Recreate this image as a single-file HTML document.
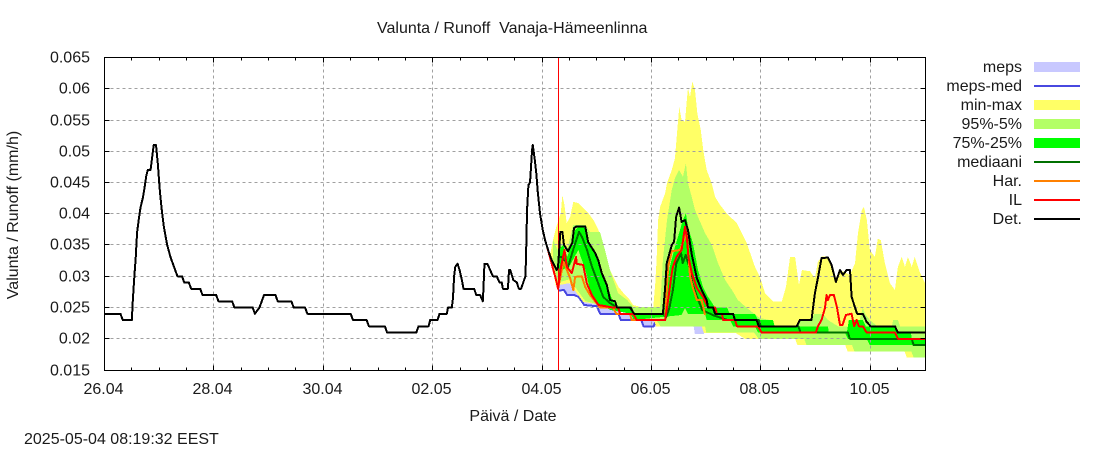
<!DOCTYPE html>
<html lang="fi">
<head>
<meta charset="utf-8">
<title>Valunta / Runoff Vanaja-Hämeenlinna</title>
<style>
  html, body { margin: 0; padding: 0; background: #fff; }
  svg { display: block; }
  text { font-family: "Liberation Sans", Arial, sans-serif; font-size: 16px; fill: #1a1a1a; }
  .crisp { shape-rendering: crispEdges; }
</style>
</head>
<body>
<svg id="chart" xmlns="http://www.w3.org/2000/svg" width="1100" height="450" viewBox="0 0 1100 450">
  <rect x="0" y="0" width="1100" height="450" fill="#ffffff"/>
  <text x="377" y="33" xml:space="preserve">Valunta / Runoff  Vanaja-Hämeenlinna</text>
  <text transform="translate(18,215) rotate(-90)" text-anchor="middle">Valunta / Runoff (mm/h)</text>
  <text x="513" y="421" text-anchor="middle">Päivä / Date</text>
  <text x="24" y="444">2025-05-04 08:19:32 EEST</text>
  <g id="bands" class="crisp"></g>
  <g id="grid" class="crisp"></g>
  <g id="series" class="crisp"></g>
  <g id="axes" class="crisp"></g>

  <g>
    <g>
      <text x="1022" y="72" text-anchor="end">meps</text>
      <rect class="crisp" x="1034" y="62" width="46" height="10" fill="#c8c8ff"/>
    </g>
    <g>
      <text x="1022" y="91" text-anchor="end">meps-med</text>
      <rect class="crisp" x="1034" y="85" width="46" height="2" fill="#4848e0"/>
    </g>
    <g>
      <text x="1022" y="110" text-anchor="end">min-max</text>
      <rect class="crisp" x="1034" y="100" width="46" height="10" fill="#ffff66"/>
    </g>
    <g>
      <text x="1022" y="129" text-anchor="end">95%-5%</text>
      <rect class="crisp" x="1034" y="119" width="46" height="10" fill="#b3ff66"/>
    </g>
    <g>
      <text x="1022" y="148" text-anchor="end">75%-25%</text>
      <rect class="crisp" x="1034" y="138" width="46" height="10" fill="#00ff00"/>
    </g>
    <g>
      <text x="1022" y="167" text-anchor="end">mediaani</text>
      <rect class="crisp" x="1034" y="161" width="46" height="2" fill="#007000"/>
    </g>
    <g>
      <text x="1022" y="186" text-anchor="end">Har.</text>
      <rect class="crisp" x="1034" y="180" width="46" height="2" fill="#ff8000"/>
    </g>
    <g>
      <text x="1022" y="205" text-anchor="end">IL</text>
      <rect class="crisp" x="1034" y="199" width="46" height="2" fill="#ff0000"/>
    </g>
    <g>
      <text x="1022" y="224" text-anchor="end">Det.</text>
      <rect class="crisp" x="1034" y="218" width="46" height="2" fill="#000000"/>
    </g>
  </g>
</svg>
<script>
const yTickValues = [0.015, 0.02, 0.025, 0.03, 0.035, 0.04, 0.045, 0.05, 0.055, 0.06, 0.065];
const yTickLabels = ["0.015", "0.02", "0.025", "0.03", "0.035", "0.04", "0.045", "0.05", "0.055", "0.06", "0.065"];
const xTickHours = [0, 48, 96, 144, 192, 240, 288, 336];
const xTickLabels = ["26.04", "28.04", "30.04", "02.05", "04.05", "06.05", "08.05", "10.05"];
const forecastStartHour = 199;

const detHours = [
  0,7,8,12,12.4,13.1,13.7,14.3,15,15.8,16.8,17.5,18.3,19,20.2,20.9,21.6,22.6,23.4,24.2,25,26,27.5,29,31,32,34,35,37,38,42,43,49,50,56,57,65,66,68,70,75,76,82,83,
  88,89,108,109,115,116,123,124,136.8,
  137.8,142.2,142.9,146.1,147,150.2,150.7,152.4,152.9,153.4,153.9,154.9,155.8,156.8,157.5,162.2,163.1,164.8,166,166.3,166.7,168,169.2,170.4,172.1,173.3,174.3,174.8,177,177.5,178,179.4,180.9,181.8,182.8,184.1,184.7,185,185.4,186,186.7,187.6,187.9,188.8,189.4,190.1,191.1,192.3,193.3,194.8,196.2,197.7,198.4,
  199,200,200.9,201.6,203.4,205.2,206,207.2,210.9,212.2,215.3,216.6,218.2,220.4,221.8,224,224.9,230.6,232.4,245,245.9,246.7,248.9,249.9,250.8,252.1,253.2,254.7,256,257.7,259.9,262,264.2,264.8,267,267.9,275.8,276.6,286.1,287.1,303.7,305.1,310.2,311.7,313,314.6,317.4,319,320.9,322.7,324,325.6,327.1,327.8,329.3,330.2,332.7,334.4,336.1,346.8,348.1,360
];
const detValues = [
  .024,.024,.023,.023,.026,.03,.033,.037,.039,.041,.0425,.044,.046,.047,.047,.049,.051,.051,.048,.044,.041,.038,.035,.033,.031,.03,.03,.029,.029,.028,.028,.027,.027,.026,.026,.025,.025,.024,.025,.027,.027,.026,.026,.025,
  .025,.024,.024,.023,.023,.022,.022,.021,.021,
  .022,.022,.023,.023,.024,.024,.025,.025,.0265,.03,.0315,.032,.031,.0294,.028,.028,.027,.027,.026,.0283,.032,.032,.031,.03,.03,.029,.029,.028,.028,.031,.031,.0294,.029,.028,.028,.0294,.03,.034,.0406,.0446,.045,.0502,.051,.0486,.0467,.0435,.04,.0374,.0358,.034,.0326,.0315,.031,
  .0315,.0371,.0371,.035,.034,.0353,.0377,.038,.038,.0355,.0337,.0326,.0305,.0286,.0262,.026,.025,.025,.024,.024,.0278,.0321,.035,.0355,.0395,.041,.0387,.039,.0374,.0334,.0297,.0278,.0262,.025,.025,.024,.024,.023,.023,.022,.022,.023,.023,.0273,.0297,.0329,.033,.0318,.0291,.031,.0302,.031,.031,.0267,.025,.024,.024,.0227,.022,.022,.021,.021
];

const ilHours = [
  194.2,196,198.5,199,200.3,201.8,202.9,205,206.9,207.2,210,211.6,213.8,216.7,223.1,225.3,226.2,232,233.5,246,247.3,248.9,249.4,251,253.2,254.7,255.5,256.2,257.7,259.9,262.6,264.8,267.9,268.7,270.9,271.4,276.6,277.5,286.7,288.3,312.1,313,314.6,316.1,316.8,317.4,318.3,320,321.4,322.7,323.8,325.3,327.8,328.9,330,331,332.7,334.4,346.8,348.1,360
];
const ilValues = [
  .0347,.0323,.0289,.028,.0315,.0342,.0315,.0305,.0331,.032,.0318,.0289,.027,.0254,.025,.025,.024,.024,.023,.023,.0262,.0305,.0315,.0331,.0342,.0379,.0363,.0331,.0305,.0281,.0267,.025,.025,.024,.024,.023,.023,.022,.022,.021,.021,.022,.023,.0249,.027,.0262,.027,.027,.025,.0222,.0222,.0238,.024,.022,.023,.022,.022,.021,.021,.02,.02
];

const harHours = [199,201.4,202.9,204.3,205.7,206.5,209.4,210.9,213,217.4,223.1,224.5,230.6,231.3,246,247.3,248.9,252.5,254.3,255.5,256.9,258.2,259.9,262,263.5];
const harValues = [.028,.0323,.031,.0297,.0278,.0299,.03,.0283,.027,.025,.025,.024,.024,.023,.023,.0315,.034,.0342,.0358,.0369,.03,.0281,.0262,.0262,.0238];

const medianHours = [199,201,203,205.6,208.2,209.5,211.7,213.9,216.6,218.8,221.8,225,231,232,245,246.5,247.9,249.4,250.9,253,253.7,255,256.6,257.9,260,262.3,266.8,273.4,287,288,304.4,305.4,326.2,327,354.2,355,360];
const medianValues = [.0331,.0331,.031,.0342,.0371,.0363,.0342,.0315,.0289,.0267,.0257,.025,.025,.024,.024,.0235,.025,.0278,.0321,.0337,.0321,.0334,.0315,.0289,.0267,.0246,.0238,.023,.023,.022,.022,.021,.021,.02,.02,.019,.019];

const mepsMedHours = [199,201.6,203,206,208,210.5,216,217.5,225.5,226.5,235.5,236.5,241,241.5,259];
const mepsMedValues = [.0277,.0278,.027,.027,.0267,.0254,.0252,.024,.024,.023,.023,.022,.022,.0226,.0226];
const mepsUpperHours = [199,203,206,208,210.5,216,217.5,225.5,226.5,235.5,236.5,259,263];
const mepsUpperValues = [.029,.029,.0285,.027,.0265,.0255,.025,.025,.024,.024,.023,.0225,.022];
const mepsLowerHours = [199,201.6,203,206,208,210.5,216,217.5,225.5,226.5,235.5,236.5,258.5,259,263];
const mepsLowerValues = [.0277,.0278,.027,.027,.0267,.0254,.0252,.024,.024,.023,.023,.022,.022,.0208,.0208];

const maxHours = [195.5,196.8,198.2,200.2,200.9,201.8,202.8,204.3,205.7,207.9,210.1,212.3,214.5,216.7,218.2,219.6,221.1,223.3,225.5,227.7,229.9,232,235,240.8,241.6,242.2,242.9,243.8,246,246.8,248.9,250.3,251.2,252.2,253.2,254.7,255.5,256,256.9,257.9,259.1,260.1,261.6,262.7,264.2,266.4,267.9,270.1,272.9,277.4,281.8,285.4,287.6,289.8,293.3,297.2,299,300.8,303,304.7,306,309.5,311.7,313,314.8,317.4,319.2,320.9,322.7,327.1,329.3,330.6,332.3,333.2,334.5,335.8,338,339.3,340.6,342.4,344.6,346.8,348.1,349.8,351.2,352.5,354.2,355.5,357.7,360];
const maxValues = [.0334,.0358,.0379,.0401,.043,.0414,.0385,.0395,.0419,.0417,.0409,.0401,.039,.0374,.0358,.0337,.0315,.0299,.0283,.0273,.0265,.0254,.0251,.0251,.0286,.0323,.039,.0411,.0433,.0449,.047,.0489,.0529,.0571,.055,.0547,.0582,.0601,.0587,.0611,.0598,.0561,.0534,.0502,.047,.0449,.0427,.0414,.0401,.0385,.0353,.0315,.0299,.0273,.026,.026,.0283,.0331,.0331,.0286,.031,.0308,.0297,.0323,.0332,.0332,.0318,.0292,.031,.0302,.0321,.0369,.0406,.0411,.039,.0342,.0331,.036,.0358,.0321,.0289,.0278,.0315,.0331,.0315,.0331,.0315,.0331,.0307,.0289];
const minHours = [195.5,198,204,210,216.6,222,232,236,241,242,262,263,277,281,303,304,325,326,351,352,360];
const minValues = [.0334,.0285,.0289,.0259,.0255,.025,.024,.023,.023,.022,.022,.0209,.0209,.02,.02,.019,.019,.018,.018,.017,.017];

const p95Hours = [196.8,199,200,201.2,203,205.6,208.2,210.9,213,217.4,219.6,221.8,225.3,229.3,232,241.6,243.8,245,246.8,248.9,250.3,252.1,253.8,255.1,256,257.8,259.1,260.4,263.5,266.5,269.2,272.3,275.3,277.9,281.9,287.6,292,293.3,294.2,303.8,304.7,310.4,311.3,315.2,317.4,321.8,330.6,331.4,332.7,334,335.8,339.1,345.5,346,348.1,349,360];
const p95Values = [.0358,.034,.0353,.035,.0342,.0382,.0382,.0382,.0371,.0371,.0342,.031,.0273,.0262,.0251,.0251,.0251,.0326,.039,.0438,.0457,.047,.0459,.0481,.0449,.0425,.0406,.0395,.0369,.035,.0321,.0294,.0278,.0262,.0249,.0233,.023,.023,.022,.022,.023,.023,.024,.024,.023,.022,.022,.023,.0249,.0238,.023,.022,.022,.023,.023,.022,.022];
const p5Hours = [196.8,199,204,208,211,217,226,232,233,242,244,263.5,264,285,287,307,308,328,329,354,355,360];
const p5Values = [.032,.029,.0295,.0275,.026,.0255,.0245,.024,.023,.023,.022,.022,.021,.021,.02,.02,.019,.019,.018,.018,.017,.017];

const p75Hours = [199,200,201.2,203,205.2,206.5,208.2,210.9,212.2,214.4,216.6,218.3,220.5,223.1,224.9,230.6,232,245,246.4,248,250.3,252.5,253.8,255.1,256,258.2,260.4,262.6,264.8,267.9,273.1,274.4,285.4,286.7,293.3,294,304.7,317.4,317.8,325.7,326.6,332.7,334,346.8,348,353.8,354.2,360];
const p75Values = [.0289,.0345,.035,.0331,.0353,.0374,.038,.0377,.0355,.0342,.0321,.0305,.0286,.0259,.0252,.025,.024,.024,.0273,.0315,.0347,.0374,.039,.0401,.0379,.0353,.031,.0283,.0267,.025,.025,.024,.024,.023,.023,.022,.022,.022,.021,.021,.023,.023,.022,.022,.021,.021,.02,.02];
const p25Hours = [199,201,204.3,207.9,211,213,216.3,222,231,232,253.2,254.7,256,263.5,264.2,274.4,275.8,285.4,286.7,324.8,326.2,334.4,335.8,360];
const p25Values = [.0289,.031,.0318,.0342,.031,.0278,.0257,.0246,.024,.023,.0238,.0249,.024,.024,.023,.023,.022,.022,.021,.021,.02,.02,.019,.019];

const SVG_NS = "http://www.w3.org/2000/svg";
const plotLeft = 104.5, plotRight = 925.5, plotTop = 57.5, plotBottom = 370.5;
const xDomainHours = 360;
function xScale(h) { return 104.5 + h * (925 - 104.5) / xDomainHours; }
function yScale(v) { return 370 - (v - 0.015) * 6250; }
function snap(p) { return Math.floor(p) + 0.5; }
function make(tag, parent) {
  const el = document.createElementNS(SVG_NS, tag);
  parent.appendChild(el);
  return el;
}
function pointString(hours, values) {
  return hours.map((h, i) => xScale(h).toFixed(2) + "," + yScale(values[i]).toFixed(2)).join(" ");
}
function drawBand(name, color, upT, upV, loT, loV) {
  const el = make("polygon", document.getElementById("bands"));
  el.setAttribute("points", pointString(upT, upV) + " " + pointString(loT.slice().reverse(), loV.slice().reverse()));
  el.setAttribute("fill", color);
  
  
}
function drawLineIn(groupId, name, color, hours, values) {
  const el = make("polyline", document.getElementById(groupId));
  el.setAttribute("points", pointString(hours, values));
  el.setAttribute("fill", "none");
  el.setAttribute("stroke", color);
  el.setAttribute("stroke-width", "2");
  el.setAttribute("stroke-linejoin", "round");
  
  
}
function gridLine(name, x1, y1, x2, y2) {
  const el = make("line", document.getElementById("grid"));
  el.setAttribute("x1", x1); el.setAttribute("y1", y1);
  el.setAttribute("x2", x2); el.setAttribute("y2", y2);
  el.setAttribute("stroke", "#a0a0a0");
  el.setAttribute("stroke-width", "1");
  el.setAttribute("stroke-dasharray", "3 3");
  
  
}
function axisMark(name, x1, y1, x2, y2) {
  const el = make("line", document.getElementById("axes"));
  el.setAttribute("x1", x1); el.setAttribute("y1", y1);
  el.setAttribute("x2", x2); el.setAttribute("y2", y2);
  el.setAttribute("stroke", "#000");
  el.setAttribute("stroke-width", "1");
  
  
}
function tickLabel(name, x, y, anchor, label) {
  const el = make("text", document.getElementById("axes"));
  el.setAttribute("x", x);
  el.setAttribute("y", y);
  el.setAttribute("text-anchor", anchor);
  el.textContent = label;
  
  
}

drawBand("meps-band", "#c8c8ff", mepsUpperHours, mepsUpperValues, mepsLowerHours, mepsLowerValues);
drawLineIn("bands", "meps-med-line", "#4848e0", mepsMedHours, mepsMedValues);
drawBand("min-max-band", "#ffff66", maxHours, maxValues, minHours, minValues);
drawBand("p95-p5-band", "#b3ff66", p95Hours, p95Values, p5Hours, p5Values);
drawBand("p75-p25-band", "#00ff00", p75Hours, p75Values, p25Hours, p25Values);

yTickValues.forEach((v, i) => {
  const py = snap(yScale(v));
  if (i > 0 && i < yTickValues.length - 1) gridLine("y-grid-line", plotLeft, py, plotRight, py);
  axisMark("y-tick-left", plotLeft, py, plotLeft + 5, py);
  axisMark("y-tick-right", plotRight - 5, py, plotRight, py);
  tickLabel("y-tick-label", 90, py + 5, "end", yTickLabels[i]);
});
xTickHours.forEach((h, i) => {
  const px = snap(xScale(h));
  if (i > 0) gridLine("x-grid-line", px, plotTop, px, plotBottom);
  tickLabel("x-tick-label", px - 1, 394, "middle", xTickLabels[i]);
});
for (let h = 0; h <= xDomainHours; h += 12) {
  const px = snap(xScale(h));
  const isMajor = h % 48 === 0;
  const len = isMajor ? 5 : 3;
  axisMark("x-tick-bottom", px, plotBottom, px, plotBottom - len);
  axisMark("x-tick-top", px, plotTop, px, plotTop + len);
}

drawLineIn("series", "mediaani-line", "#007000", medianHours, medianValues);
drawLineIn("series", "har-line", "#ff8000", harHours, harValues);
drawLineIn("series", "il-line", "#ff0000", ilHours, ilValues);

const nowLine = make("line", document.getElementById("series"));
nowLine.setAttribute("x1", snap(xScale(forecastStartHour)));
nowLine.setAttribute("x2", snap(xScale(forecastStartHour)));
nowLine.setAttribute("y1", plotTop);
nowLine.setAttribute("y2", plotBottom);
nowLine.setAttribute("stroke", "#ff0000");
nowLine.setAttribute("stroke-width", "1");



drawLineIn("series", "det-line", "#000000", detHours, detValues);

const border = make("rect", document.getElementById("axes"));
border.setAttribute("x", plotLeft);
border.setAttribute("y", plotTop);
border.setAttribute("width", plotRight - plotLeft);
border.setAttribute("height", plotBottom - plotTop);
border.setAttribute("fill", "none");
border.setAttribute("stroke", "#000");
border.setAttribute("stroke-width", "1");


</script>
</body>
</html>
